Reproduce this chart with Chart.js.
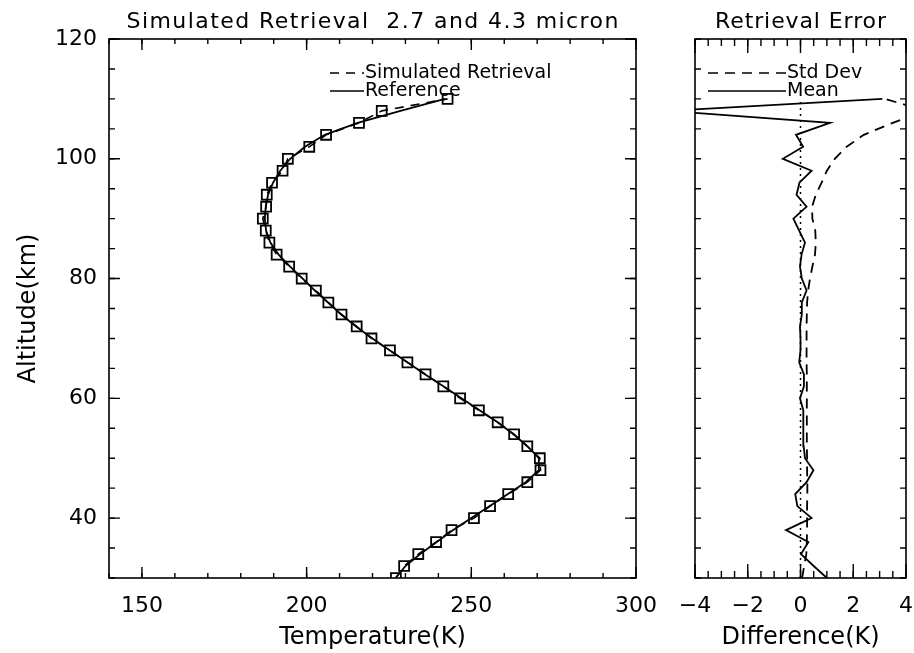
<!DOCTYPE html>
<html>
<head>
<meta charset="utf-8">
<script src="https://cdn.jsdelivr.net/npm/chart.js@4.4.1/dist/chart.umd.min.js"></script>
<style>
  html, body { margin: 0; padding: 0; background: #fff; }
  #wrap { position: relative; width: 914px; height: 653px; }
  #tempChart { position: absolute; left: 0; top: 0; }
  #errChart { position: absolute; left: 660px; top: 0; }
</style>
</head>
<body>
<div id="wrap">
  <canvas id="tempChart" width="660" height="653"></canvas>
  <canvas id="errChart" width="254" height="653"></canvas>
</div>
<script>
// altitude grid (km), every 2 km
const altitude = [30, 32, 34, 36, 38, 40, 42, 44, 46, 48, 50, 52, 54, 56, 58, 60, 62, 64, 66, 68,
                  70, 72, 74, 76, 78, 80, 82, 84, 86, 88, 90, 92, 94, 96, 98, 100, 102, 104, 106, 108, 110]

// temperatures (K)
const retrieved = [227.1, 229.6, 233.9, 239.3, 244.0, 250.8, 255.7, 261.2, 267.0, 271.0,
                   270.8, 267.0, 263.0, 258.0, 252.3, 246.6, 241.5, 236.1, 230.6, 225.3,
                   219.7, 215.2, 210.6, 206.6, 202.8, 198.5, 194.7, 190.9, 188.7, 187.6,
                   186.7, 187.7, 187.9, 189.5, 192.7, 194.3, 200.8, 205.9, 215.9, 222.8, 242.8]
const reference = [227.0, 230.0, 234.5, 239.5, 244.5, 250.0, 255.5, 261.0, 266.5, 270.5,
                   270.5, 267.0, 262.8, 258.0, 252.5, 247.0, 241.5, 236.0, 230.7, 225.3,
                   220.0, 215.0, 210.5, 206.5, 202.5, 198.8, 195.0, 191.5, 189.0, 187.7,
                   187.3, 187.6, 188.3, 189.8, 192.0, 195.0, 199.5, 205.5, 215.5, 228.5, 242.0]

// retrieval error (K)
const meanDiff = [1.0, 0.5, 0.02, 0.3, -0.55, 0.42, -0.12, -0.2, 0.23, 0.49,
                  0.17, 0.12, 0.12, 0.1, 0.1, -0.02, 0.13, 0.13, -0.05, 0.0,
                  0.0, -0.02, 0.05, 0.05, 0.23, 0.05, -0.02, 0.04, 0.17, -0.05,
                  -0.27, 0.23, -0.15, -0.04, 0.42, -0.67, 0.1, -0.17, 1.12, -5.0, 3.1]
const stdDev = [0.06, 0.14, 0.22, 0.24, 0.25, 0.25, 0.25, 0.26, 0.26, 0.25,
                0.25, 0.24, 0.24, 0.24, 0.24, 0.24, 0.24, 0.24, 0.23, 0.23,
                0.23, 0.23, 0.24, 0.25, 0.29, 0.36, 0.45, 0.55, 0.58, 0.56,
                0.45, 0.44, 0.58, 0.8, 1.0, 1.3, 1.75, 2.4, 3.5, 4.75, 3.2]
const zeroDiff = [0, 0]
const zeroAlt = [30, 110]

// tick labels
const tempTicks = [150, 200, 250, 300]
const altTicks = [40, 60, 80, 100, 120]
const diffTicks = [-4, -2, 0, 2, 4]

/////////////////////////////////////////////////////////

function pts(xs, ys) {
    return xs.map((v, i) => ({ x: v, y: ys[i] }))
}

function range(a, b, step) {
    let out = []
    for (let v = a; v <= b + 1e-9; v += step) out.push(+v.toFixed(3))
    return out
}

const FONT = '"DejaVu Sans", sans-serif'
Chart.defaults.font.family = FONT
Chart.defaults.color = '#000'

// IDL style box: inward ticks on all four sides, the title and the little legend
const idlFrame = {
    id: 'idlFrame',
    afterDatasetsDraw(chart, args, opts) {
        const { ctx, chartArea: a, scales } = chart
        ctx.save()
        ctx.strokeStyle = '#000'
        ctx.lineWidth = 1.6
        ctx.setLineDash([])
        ctx.strokeRect(a.left, a.top, a.right - a.left, a.bottom - a.top)

        const tick = (scale, vals, len) => {
            vals.forEach(v => {
                const p = scale.getPixelForValue(v)
                ctx.beginPath()
                if (scale.isHorizontal()) {
                    ctx.moveTo(p, a.bottom); ctx.lineTo(p, a.bottom - len)
                    ctx.moveTo(p, a.top); ctx.lineTo(p, a.top + len)
                } else {
                    ctx.moveTo(a.left, p); ctx.lineTo(a.left + len, p)
                    ctx.moveTo(a.right, p); ctx.lineTo(a.right - len, p)
                }
                ctx.stroke()
            })
        }
        ctx.lineWidth = 1.4
        tick(scales.x, opts.xMinor, opts.xMinorLen)
        tick(scales.x, opts.xMajor, opts.xMajorLen)
        tick(scales.y, opts.yMinor, opts.yMinorLen)
        tick(scales.y, opts.yMajor, opts.yMajorLen)

        ctx.fillStyle = '#000'
        ctx.textBaseline = 'alphabetic'

        // title, spread out a little like the old vector font
        const t = opts.title
        ctx.font = t.size + 'px ' + FONT
        ctx.textAlign = 'center'
        ctx.letterSpacing = '0px'
        const w = ctx.measureText(t.text).width
        const sp = Math.max(0, (t.width - w) / (t.text.length - 1))
        ctx.letterSpacing = sp.toFixed(2) + 'px'
        ctx.fillText(t.text, (a.left + a.right) / 2 + sp / 2, 28)
        ctx.letterSpacing = '0px'

        ctx.textAlign = 'left'
        ctx.font = '19px ' + FONT
        opts.legend.forEach(l => {
            ctx.lineWidth = 1.6
            ctx.setLineDash(l.dash)
            ctx.beginPath()
            ctx.moveTo(l.x0, l.y); ctx.lineTo(l.x1, l.y)
            ctx.stroke()
            ctx.fillText(l.text, l.x1 + 1, l.y + 5)
        })
        ctx.restore()
    }
}

function xScale(min, max, ticks, title, fmt) {
    return {
        type: 'linear', min: min, max: max,
        afterBuildTicks: s => { s.ticks = ticks.map(v => ({ value: v })) },
        afterFit: s => { s.height = 75; s.paddingLeft = 0; s.paddingRight = 0 },
        grid: { display: false, drawTicks: false },
        border: { display: false },
        ticks: { font: { size: 22 }, padding: 15, color: '#000', callback: fmt },
        title: { display: true, text: title, font: { size: 24 }, color: '#000', padding: { top: 0, bottom: 1 } }
    }
}

new Chart(document.getElementById('tempChart'), {
    type: 'scatter',
    data: {
        datasets: [{
            label: 'Simulated Retrieval',
            data: pts(retrieved, altitude),
            showLine: true,
            borderColor: '#000',
            borderWidth: 1.6,
            borderDash: [9, 7],
            pointStyle: 'rect',
            pointRadius: 7,
            pointBorderWidth: 1.8,
            pointBorderColor: '#000',
            pointBackgroundColor: 'rgba(0,0,0,0)'
        }, {
            label: 'Reference',
            data: pts(reference, altitude),
            showLine: true,
            borderColor: '#000',
            borderWidth: 1.8,
            pointRadius: 0
        }]
    },
    options: {
        responsive: false,
        animation: false,
        layout: { padding: { left: 0, right: 24, top: 39, bottom: 0 } },
        plugins: {
            legend: { display: false },
            tooltip: { enabled: false },
            title: { display: false },
            idlFrame: {
                title: { text: 'Simulated Retrieval  2.7 and 4.3 micron', size: 22, width: 492 },
                xMajor: tempTicks, xMinor: range(140, 300, 10), xMajorLen: 11, xMinorLen: 5,
                yMajor: altTicks, yMinor: range(30, 120, 5), yMajorLen: 11, yMinorLen: 6,
                legend: [
                    { text: 'Simulated Retrieval', dash: [9, 7], x0: 330, x1: 364, y: 73 },
                    { text: 'Reference', dash: [], x0: 330, x1: 364, y: 91 }
                ]
            }
        },
        scales: {
            x: xScale(140, 300, tempTicks, 'Temperature(K)'),
            y: {
                type: 'linear', min: 30, max: 120,
                afterBuildTicks: s => { s.ticks = altTicks.map(v => ({ value: v })) },
                afterFit: s => { s.width = 109 },
                grid: { display: false, drawTicks: false },
                border: { display: false },
                ticks: { font: { size: 22 }, padding: 12, color: '#000' },
                title: { display: true, text: 'Altitude(km)', font: { size: 24 }, color: '#000', padding: { top: 14, bottom: 0 } }
            }
        }
    },
    plugins: [idlFrame]
})

new Chart(document.getElementById('errChart'), {
    type: 'scatter',
    data: {
        datasets: [{
            label: 'Std Dev',
            data: pts(stdDev, altitude),
            showLine: true,
            borderColor: '#000',
            borderWidth: 1.8,
            borderDash: [10, 7],
            pointRadius: 0
        }, {
            label: 'Mean',
            data: pts(meanDiff, altitude),
            showLine: true,
            borderColor: '#000',
            borderWidth: 1.8,
            pointRadius: 0
        }, {
            label: 'zero',
            data: pts(zeroDiff, zeroAlt),
            showLine: true,
            borderColor: '#000',
            borderWidth: 1.5,
            borderDash: [2, 4],
            pointRadius: 0
        }]
    },
    options: {
        responsive: false,
        animation: false,
        layout: { padding: { left: 0, right: 8, top: 39, bottom: 0 } },
        plugins: {
            legend: { display: false },
            tooltip: { enabled: false },
            title: { display: false },
            idlFrame: {
                title: { text: 'Retrieval Error', size: 22, width: 171 },
                xMajor: diffTicks, xMinor: range(-4, 4, 0.5), xMajorLen: 14, xMinorLen: 7,
                yMajor: [], yMinor: range(30, 120, 5), yMajorLen: 6, yMinorLen: 6,
                legend: [
                    { text: 'Std Dev', dash: [10, 7], x0: 48, x1: 126, y: 73 },
                    { text: 'Mean', dash: [], x0: 48, x1: 126, y: 91 }
                ]
            }
        },
        scales: {
            x: xScale(-4, 4, diffTicks, 'Difference(K)', v => (v < 0 ? '\u2212' + Math.abs(v) : '' + v)),
            y: {
                type: 'linear', min: 30, max: 120,
                afterFit: s => { s.width = 35 },
                grid: { display: false, drawTicks: false },
                border: { display: false },
                ticks: { display: false }
            }
        }
    },
    plugins: [idlFrame]
})
</script>
</body>
</html>
